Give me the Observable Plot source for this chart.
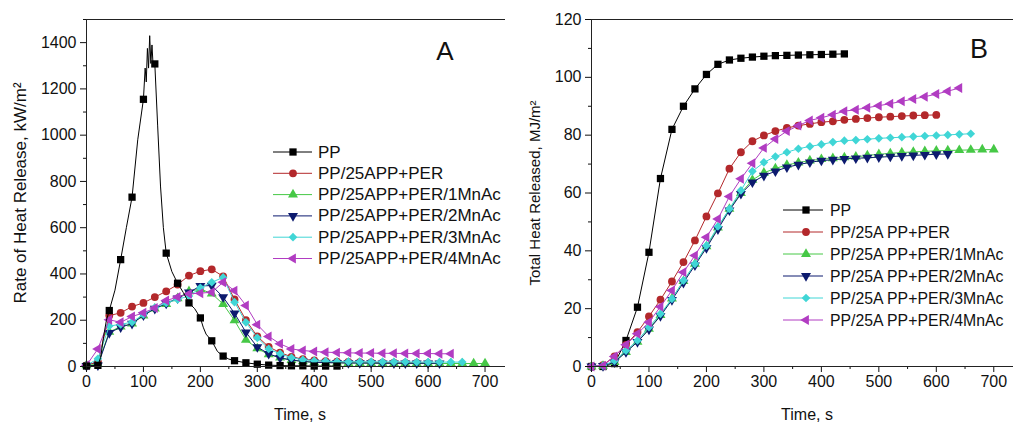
<!DOCTYPE html>
<html><head><meta charset="utf-8">
<script src="https://cdn.jsdelivr.net/npm/d3@7"></script>
<script src="https://cdn.jsdelivr.net/npm/@observablehq/plot@0.6"></script>
<style>
body{margin:0;width:1013px;height:422px;overflow:hidden;position:relative;background:#fff;font-family:"Liberation Sans",Arial,sans-serif;}
.panel{position:absolute;top:0;}
.panel svg{max-width:none !important;}
#overlay{position:absolute;top:0;left:0;pointer-events:none;}
</style></head><body>
<div id="A" class="panel" style="left:0;width:520px;height:422px"></div>
<div id="B" class="panel" style="left:505px;width:522px;height:422px"></div>
<svg id="overlay" width="1013" height="422"></svg>
<script>
// ---------- data ----------
const times = [0,20,40,60,80,100,120,140,160,180,200,220,240,260,280,300,320,340,360,380,400,420,440,460,480,500,520,540,560,580,600,620,640,660,680,700];
const seriesNames  = ["PP","PP/25APP+PER","PP/25APP+PER/1MnAc","PP/25APP+PER/2MnAc","PP/25APP+PER/3MnAc","PP/25APP+PER/4MnAc"];
const seriesNamesB = ["PP","PP/25A PP+PER","PP/25A PP+PER/1MnAc","PP/25A PP+PER/2MnAc","PP/25A PP+PER/3MnAc","PP/25A PP+PER/4MnAc"];

// Panel A: rate of heat release, kW/m2 (markers every 20 s)
const ppA     = [2,5,242,462,732,1155,1308,490,360,275,210,111,45,25,16,10,6,4,3,3,2,2,2];
const redA    = [5,20,220,232,259,275,300,325,354,393,412,420,390,290,200,130,85,60,42,32,26,23,21,20,19,18,17,17,16,16,15];
const greenA  = [5,10,150,172,185,220,250,270,295,325,335,315,270,199,115,78,52,38,28,22,18,17,16,15,15,14,14,14,14,13,13,13,13,13,13,13];
const navyA   = [3,5,145,170,185,222,250,272,295,320,348,350,300,230,148,84,55,37,28,22,18,17,16,15,15,15,14,14,14,14,14,14];
const cyanA   = [5,33,175,182,192,225,255,275,290,305,340,364,385,278,191,124,76,55,38,29,25,23,21,21,20,20,20,20,20,19,19,19,19,19];
const purpleA = [5,76,202,191,216,232,253,285,300,314,317,321,364,328,264,181,130,98,76,69,65,62,60,59,58,58,57,57,56,56,56,55,55];
// PP line in A is recorded more densely than its markers
const ppLineTimesA = [0,10,20,25,30,35,40,50,60,70,80,90,100,103,105,107,109,111,113,115,117,120,125,130,135,140,150,160,170,180,190,200,205,210,220,230,240,250,260,280,300,320,340,360,380,400,420,440];
const ppLineA      = [2,3,5,40,130,200,242,330,462,600,732,980,1155,1290,1230,1375,1290,1430,1310,1390,1300,1308,1040,780,600,490,410,360,320,275,250,210,170,140,111,65,45,32,25,16,10,6,4,3,3,2,2,2];

// Panel B: total heat released, MJ/m2
const ppB     = [0,0,1,9,20.5,39.5,65,82,90,96,101,104.5,106,106.6,107,107.3,107.5,107.6,107.7,107.8,107.9,108,108.1];
const redB    = [0,0.5,3.5,7.5,11.9,17.3,23.1,29.4,36.1,43.6,51.9,59.9,68.4,74.1,77.9,79.9,81.4,82.5,83.3,83.9,84.5,84.8,85.3,85.6,85.9,86.2,86.4,86.6,86.8,86.9,87];
const greenB  = [0,0.2,1.5,5,8.5,13,17.8,23.5,29.5,35.5,41.5,48,54.5,60,64.5,67,68.5,69.7,70.5,71.2,71.7,72,72.3,72.5,73,73.4,73.7,74,74.2,74.4,74.6,74.7,74.8,74.9,75,75];
const navyB   = [0,0.2,1.5,5,8.5,12.8,17.5,23,29,35,41,47.5,54,59.7,63.7,66,67.5,68.9,69.8,70.6,71.2,71.5,71.8,72,72.2,72.4,72.6,72.8,73,73.2,73.4,73.5];
const cyanB   = [0,0.3,2,5.5,9,13.6,18.2,23.4,29.7,35.5,41.8,48.4,54.5,60.9,67.5,70.6,72.6,74.1,75.3,76.1,76.8,77.6,78.1,78.3,78.6,78.9,79.1,79.3,79.5,79.7,79.9,80.1,80.3,80.5];
const purpleB = [0,0.3,3.5,7.5,11.3,15.3,20.7,26.3,32.6,38.4,44.7,51,58.8,64.9,70.3,75.6,78.7,81.4,83.3,85.1,86,87.1,88.3,88.8,89.5,90.2,90.9,91.7,92.5,93.3,94.2,95.2,96.3];

// ticks
const xTicks  = [0,100,200,300,400,500,600,700];
const xMinor  = [50,150,250,350,450,550,650,750];
const yTicksA = [0,200,400,600,800,1000,1200,1400];
const yMinorA = [100,300,500,700,900,1100,1300,1500];
const yTicksB = [0,20,40,60,80,100,120];
const yMinorB = [10,30,50,70,90,110];

// ---------- style ----------
const colors = ["#000000","#b3282b","#46c846","#0c1a6e","#40d6d6","#b13cc2"];
const FONT = "Liberation Sans, Arial, sans-serif";

function triSym(dir){
  return {draw(ctx, size){
    const y = -Math.sqrt(size / (Math.sqrt(3) * 3));
    const s = Math.sqrt(3);
    if (dir === "down"){ ctx.moveTo(0,-2*y); ctx.lineTo(-s*y,y); ctx.lineTo(s*y,y); }
    else if (dir === "left"){ ctx.moveTo(2*y,0); ctx.lineTo(-y,-s*y); ctx.lineTo(-y,s*y); }
    else { ctx.moveTo(0,2*y); ctx.lineTo(-s*y,-y); ctx.lineTo(s*y,-y); }
    ctx.closePath();
  }};
}
const symbols = [d3.symbolSquare, d3.symbolCircle, triSym("up"), triSym("down"), d3.symbolDiamond2, triSym("left")];
const radii = [4.1, 3.9, 3.7, 3.7, 3.9, 3.7];

function seriesMarks(list, drawOrder){
  const marks = [];
  for (const i of drawOrder){
    const data = list[i].map((v,j)=>({t:times[j], v}));
    marks.push(Plot.line(data,{x:"t",y:"v",stroke:colors[i],strokeWidth:1}));
    marks.push(Plot.dot(data,{x:"t",y:"v",symbol:symbols[i],r:radii[i],fill:colors[i],stroke:"none"}));
  }
  return marks;
}

function axes(yTicks, yMinor, xLabel, yLabel, yLabelOffset, yLabelSize){
  return [
    Plot.axisX({ticks:xTicks, tickSize:6, tickPadding:3, fontSize:16, label:xLabel, labelArrow:"none", labelAnchor:"center", labelOffset:53, tickFormat:d=>String(d)}),
    Plot.axisX({ticks:xMinor, tickSize:3, text:null, label:null}),
    Plot.axisY({ticks:yTicks, tickSize:6, tickPadding:4, fontSize:16, label:null, tickFormat:d=>String(d)}),
    Plot.axisY({ticks:yMinor, tickSize:3, text:null, label:null}),
    Plot.axisY({ticks:[], tickSize:0, text:null, label:yLabel, labelArrow:"none", labelAnchor:"center", labelOffset:yLabelOffset, fontSize:yLabelSize}),
    Plot.frame({stroke:"#222", strokeWidth:1})
  ];
}

// ---------- Panel A ----------
const ppLineDataA = ppLineA.map((v,j)=>({t:ppLineTimesA[j], v}));
const plotA = Plot.plot({
  width:520, height:422, marginLeft:86, marginRight:7, marginTop:19, marginBottom:56,
  style:{fontFamily:FONT, color:"#111", background:"#fff", maxWidth:"none"},
  x:{domain:[0,750]}, y:{domain:[0,1500]},
  marks:[
    ...seriesMarks([ppA,redA,greenA,navyA,cyanA,purpleA],[1,2,3,4,5]),
    Plot.line(ppLineDataA,{x:"t",y:"v",stroke:colors[0],strokeWidth:1}),
    Plot.dot(ppA.map((v,j)=>({t:times[j],v})),{x:"t",y:"v",symbol:symbols[0],r:radii[0],fill:colors[0]}),
    ...axes(yTicksA, yMinorA, "Time, s", "Rate of Heat Release, kW/m²", 73, 17)
  ]
});
document.getElementById("A").append(plotA);

// ---------- Panel B ----------
const plotB = Plot.plot({
  width:522, height:422, marginLeft:86, marginRight:5, marginTop:19, marginBottom:56,
  style:{fontFamily:FONT, color:"#111", background:"#fff", maxWidth:"none"},
  x:{domain:[0,750]}, y:{domain:[0,120]},
  marks:[
    ...seriesMarks([ppB,redB,greenB,navyB,cyanB,purpleB],[0,1,2,3,4,5]),
    ...axes(yTicksB, yMinorB, "Time, s", "Total Heat Released, MJ/m²", 62, 15)
  ]
});
document.getElementById("B").append(plotB);

// ---------- legends & panel tags ----------
const ov = d3.select("#overlay");
function legend(names, x0, x1, xm, xt, y0, dy, fs){
  names.forEach((name,i)=>{
    const y = y0 + i*dy;
    ov.append("line").attr("x1",x0).attr("x2",x1).attr("y1",y).attr("y2",y).attr("stroke",colors[i]).attr("stroke-width",1);
    ov.append("path").attr("transform",`translate(${xm},${y})`)
      .attr("d", d3.symbol(symbols[i], Math.PI*radii[i]*radii[i])()).attr("fill",colors[i]);
    ov.append("text").attr("x",xt).attr("y",y).attr("dominant-baseline","central")
      .attr("font-family",FONT).attr("font-size",fs).attr("fill","#111").text(name);
  });
}
legend(seriesNames, 273, 312, 293, 318, 152, 21.3, 17);
legend(seriesNamesB, 783, 823, 806, 830, 210, 22, 15.8);
ov.append("text").attr("x",445).attr("y",60).attr("text-anchor","middle").attr("font-family",FONT).attr("font-size",26).attr("fill","#111").text("A");
ov.append("text").attr("x",979).attr("y",58).attr("text-anchor","middle").attr("font-family",FONT).attr("font-size",27).attr("fill","#111").text("B");
</script>
</body></html>
